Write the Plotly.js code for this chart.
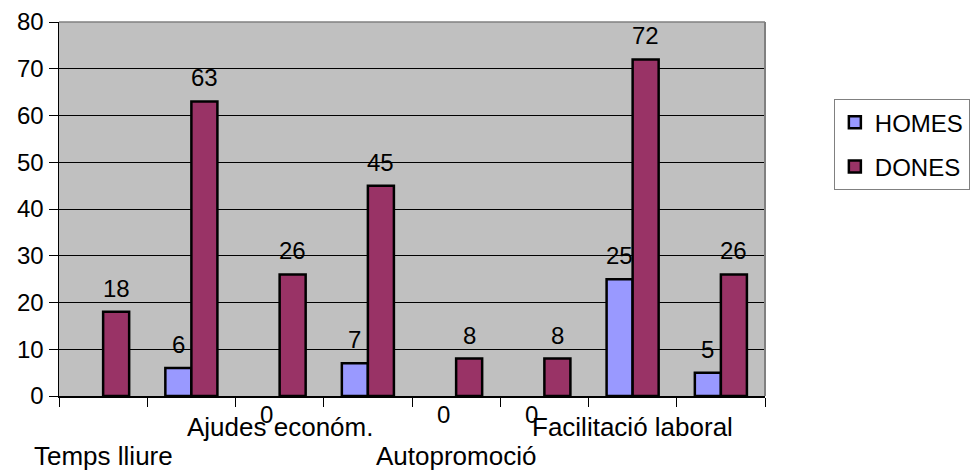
<!DOCTYPE html>
<html>
<head>
<meta charset="utf-8">
<script src="https://cdn.plot.ly/plotly-3.0.1.min.js"></script>
<style>html,body{margin:0;padding:0;background:#fff;}#chart{width:973px;height:472px;}</style>
</head>
<body>
<div id="chart"></div>
<script>
// Data
const categories = ["Temps lliure", "", "Ajudes económ.", "", "Autopromoció", "", "Facilitació laboral", ""];
const homes = [null, 6, 0, 7, 0, 0, 25, 5];
const dones = [18, 63, 26, 45, 8, 8, 72, 26];
const seriesNames = ["HOMES", "DONES"];
const yTicks = [0, 10, 20, 30, 40, 50, 60, 70, 80];

const FONT = "Liberation Sans, Arial, sans-serif";
const FS = 24;
const idx = categories.map((_, i) => i);
const bargap = 0.41;
const barW = (1 - bargap) / 2;
const lc = arr => arr.map(v => (v === 0 ? "rgba(0,0,0,0)" : "#000"));

const traces = [
  {type: "bar", name: seriesNames[0], x: idx, y: homes, legendgroup: "a",
   marker: {color: "#9999FF", line: {color: lc(homes), width: 2.5}}},
  {type: "bar", name: seriesNames[1], x: idx, y: dones, legendgroup: "b",
   marker: {color: "#993366", line: {color: lc(dones), width: 2.5}}}
];

const annotations = [];
// data labels
[homes, dones].forEach((arr, s) => {
  const off = s === 0 ? -barW / 2 : barW / 2;
  arr.forEach((v, i) => {
    if (v === null) return;
    if (v === 0) {
      annotations.push({x: i + off, y: 0, xref: "x", yref: "y", text: String(v), showarrow: false,
        yanchor: "middle", yshift: -18, font: {family: FONT, size: FS, color: "#000"}});
    } else {
      annotations.push({x: i + off, y: v, xref: "x", yref: "y", text: String(v), showarrow: false,
        yanchor: "bottom", yshift: 8, font: {family: FONT, size: FS, color: "#000"}});
    }
  });
});
// category labels (staggered)
categories.forEach((c, i) => {
  if (!c) return;
  const lower = (i % 4 === 0);
  annotations.push({x: i, y: 0, xref: "x", yref: "y", text: c, showarrow: false,
    yanchor: "middle", yshift: lower ? -60 : -31, font: {family: FONT, size: 26, color: "#000"}});
});

const layout = {
  width: 973, height: 472,
  margin: {l: 59, r: 208, t: 22, b: 76},
  paper_bgcolor: "#fff",
  plot_bgcolor: "#C0C0C0",
  font: {family: FONT, size: FS, color: "#000"},
  barmode: "group",
  bargap: bargap,
  bargroupgap: 0,
  showlegend: true,
  legend: {xref: "container", yref: "container", x: 0.857, y: 0.79, xanchor: "left", yanchor: "top",
    bordercolor: "#808080", borderwidth: 1, bgcolor: "#fff",
    font: {family: FONT, size: 24, color: "#000"}, itemwidth: 30,
    traceorder: "grouped", tracegroupgap: 10},
  xaxis: {range: [-0.5, 7.5], tickvals: [-0.5, 0.5, 1.5, 2.5, 3.5, 4.5, 5.5, 6.5, 7.5],
    showticklabels: false, ticks: "outside", ticklen: 9, tickcolor: "#000", tickwidth: 1,
    showgrid: false, zeroline: false, showline: true, linecolor: "#000", linewidth: 1.5},
  yaxis: {range: [0, 80], tickvals: yTicks, ticks: "outside", ticklen: 9, tickcolor: "#000",
    showgrid: true, gridcolor: "#000", gridwidth: 1, zeroline: false,
    showline: true, linecolor: "#000", linewidth: 1.5,
    tickfont: {family: FONT, size: FS, color: "#000"}},
  shapes: [
    {type: "line", xref: "paper", yref: "paper", x0: 0, x1: 1, y0: 1, y1: 1, line: {color: "#808080", width: 1.5}},
    {type: "line", xref: "paper", yref: "paper", x0: 1, x1: 1, y0: 0, y1: 1, line: {color: "#808080", width: 2}}
  ],
  annotations: annotations
};

Plotly.newPlot("chart", traces, layout, {displayModeBar: false, staticPlot: true});
</script>
</body>
</html>
